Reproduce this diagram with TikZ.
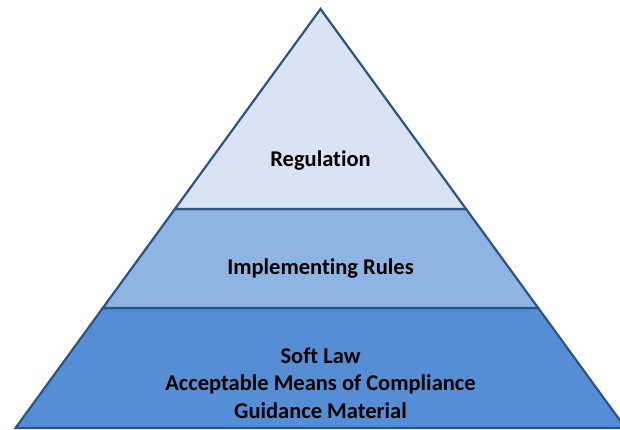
\documentclass[tikz,border=0pt]{standalone}
\usepackage{fontspec}
\setmainfont{Carlito}[Ligatures={NoCommon}]
\definecolor{topfill}{HTML}{DAE3F3}
\definecolor{midfill}{HTML}{8EB4E3}
\definecolor{botfill}{HTML}{558ED5}
\definecolor{edgeblue}{HTML}{2B5487}
\begin{document}
\begin{tikzpicture}[x=1pt,y=-1pt,
  layer/.style={draw=edgeblue,line width=2.2pt,line join=miter},
  lbl/.style={font=\bfseries\fontsize{22.5}{27.5}\selectfont,text=black,align=center}]
\useasboundingbox (0,0) rectangle (620,430);
\clip (0,0) rectangle (620,430);
\coordinate (apex) at (320.5,9);
\coordinate (l1) at (174.9,209);
\coordinate (r1) at (466.1,209);
\coordinate (l2) at (102.8,308);
\coordinate (r2) at (538.2,308);
\coordinate (l3) at (15.5,428);
\coordinate (r3) at (625.5,428);
\filldraw[layer,fill=botfill] (l2) -- (r2) -- (r3) -- (l3) -- cycle;
\filldraw[layer,fill=midfill] (l1) -- (r1) -- (r2) -- (l2) -- cycle;
\filldraw[layer,fill=topfill] (apex) -- (r1) -- (l1) -- cycle;
\node[lbl] (reg) at (320.5,161) {Regulation};
\node[lbl] (impl) at (320.5,269) {Implementing Rules};
\node[lbl] (soft) at (320.5,383) {Soft Law\\Acceptable Means of Compliance\\Guidance Material};
\end{tikzpicture}
\end{document}
